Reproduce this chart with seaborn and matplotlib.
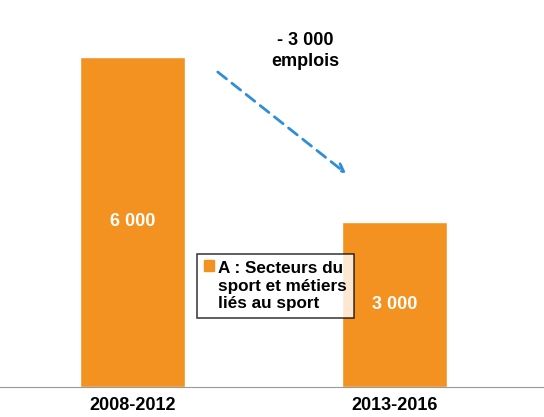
import matplotlib
matplotlib.use("Agg")
import matplotlib.pyplot as plt
import seaborn as sns
import pandas as pd

periods = ["2008-2012", "2013-2016"]
jobs = [6000, 3000]
value_labels = ["6 000", "3 000"]
legend_label = "A : Secteurs du\nsport et métiers\nliés au sport"
change_label = "- 3 000\nemplois"

orange = "#F39221"
blue = "#2E8FD6"

sns.set_style("white")
plt.rcParams["font.family"] = ["Liberation Sans", "DejaVu Sans"]
plt.rcParams["text.color"] = "black"
plt.rcParams["xtick.color"] = "black"

df = pd.DataFrame({"period": periods, "jobs": jobs})

fig = plt.figure(figsize=(5.44, 4.17), dpi=100)
ax = fig.add_axes([0.0, 0.072, 1.0, 0.928])

sns.barplot(data=df, x="period", y="jobs", color=orange, saturation=1,
            width=0.4, ax=ax)

ax.set_xlim(-0.506, 1.57)
ax.set_ylim(0, 7036)

# value labels inside bars
for i, (v, lab) in enumerate(zip(jobs, value_labels)):
    ax.text(i, v / 2, lab, ha="center", va="center", color="white",
            fontsize=13, fontweight="bold")

# dashed arrow between the bars
ax.annotate("", xy=(0.815, 3880), xytext=(0.325, 5727),
            arrowprops=dict(arrowstyle="->", color=blue, lw=2,
                            linestyle=(0, (4, 2.5)), mutation_scale=14,
                            shrinkA=0, shrinkB=0))
ax.text(0.66, 6110, change_label, ha="center", va="center",
        fontsize=13, fontweight="bold", linespacing=1.25)

# legend (marker sits on the first text line)
handle = plt.Rectangle((0, 0), 1, 1, color=orange)
leg = ax.legend([handle], [legend_label], loc="upper left",
                bbox_to_anchor=(0.362, 0.344), frameon=True, fancybox=False,
                prop={"weight": "bold", "size": 12.3}, handlelength=0.6,
                handleheight=0.6, handletextpad=0.25, borderpad=0.4,
                borderaxespad=0, labelspacing=0.2)
leg.get_frame().set_edgecolor("black")
leg.get_frame().set_linewidth(1.1)
for t in leg.get_texts():
    t.set_linespacing(1.24)
h = leg.legend_handles[0]
h.set_y(h.get_y() + 15)

# axes styling
for s in ["top", "right", "left"]:
    ax.spines[s].set_visible(False)
ax.spines["bottom"].set_color("#999999")
ax.set_yticks([])
ax.set_xlabel("")
ax.set_ylabel("")
ax.set_xticks([0, 1])
ax.set_xticklabels(periods, fontsize=13, fontweight="bold")
ax.tick_params(axis="x", length=0, pad=7)
ax.set_xticks([0.5], minor=True)
ax.tick_params(axis="x", which="minor", length=5, color="#999999", direction="out")

fig.savefig("out.png", dpi=100)
